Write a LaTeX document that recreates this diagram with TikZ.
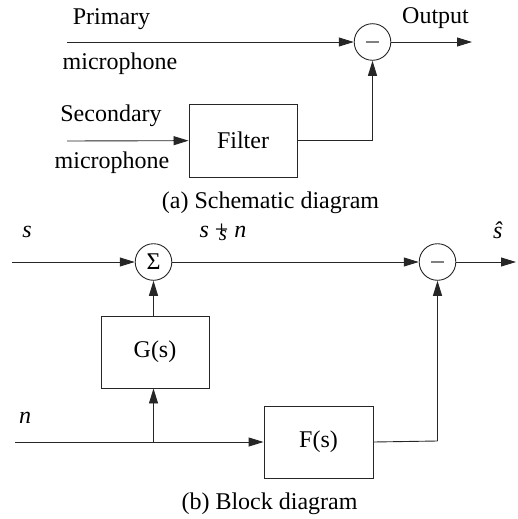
\documentclass[tikz,border=0pt]{standalone}
\usepackage{fontspec}
\setmainfont{Liberation Serif}
\usetikzlibrary{arrows.meta}
\begin{document}
\begin{tikzpicture}[x=1pt,y=-1pt,
  every node/.style={font=\fontsize{24}{28}\selectfont},
  line/.style={line width=0.9pt, draw=black!85},
  arr/.style={line, -{Triangle[length=15pt,width=9pt]}},
  blk/.style={draw=black!85, line width=0.9pt, rectangle, inner sep=0pt},
  junc/.style={draw=black!85, circle, line width=0.9pt, minimum size=36.6pt, inner sep=0pt},
  lbl/.style={anchor=base, inner sep=0pt}]
\useasboundingbox (0,0) rectangle (517,519);

% ---------- (a) Schematic diagram ----------
\node[junc] (sub1) at (372.5,42) {\color{black!50}\rule[-1pt]{13pt}{2pt}};
\node[blk, minimum width=108pt, minimum height=73pt] (filter) at (243,140.5) {Filter};
\coordinate (pin) at (67,42);
\coordinate (sin2) at (67,141);
\coordinate (out1) at (472,42);

\node[lbl] (tprim) at (111.5,25) {Primary};
\node[lbl] (tmic1) at (120,70) {microphone};
\node[lbl] (tsec) at (111,121) {Secondary};
\node[lbl] (tmic2) at (112,168) {microphone};
\node[lbl] (tout) at (435.5,24) {Output};
\node[lbl] (capa) at (270.5,208) {(a) Schematic diagram};

\draw[arr] (pin) -- (sub1);
\draw[arr] (sub1) -- (out1);
\draw[arr] (sin2) -- (filter);
\draw[arr] (filter.east) -| (sub1.south);

% ---------- (b) Block diagram ----------
\node[junc] (sum) at (153.5,262) {\fontsize{24}{24}\selectfont Σ};
\node[junc] (sub2) at (437.5,262) {\color{black!50}\rule[-1pt]{13pt}{2pt}};
\node[blk, minimum width=108pt, minimum height=72pt] (G) at (155,352) {G(s)};
\node[blk, minimum width=109pt, minimum height=72pt] (F) at (318.5,442) {F(s)};
\coordinate (sin) at (12,262);
\coordinate (nin) at (15,442);
\coordinate (shat) at (516,262);
\coordinate (branch) at (153.5,442);
\coordinate (fc) at (437.5,441);

\node[lbl] (ts) at (27,237) {\textit{s}};
\node[lbl] (tsn) at (223,237) {\textit{s} + \textit{n}};
\node[lbl, font=\fontsize{21}{24}\selectfont] (tsx) at (223,240) {\textit{s}};
\node[lbl] (tshat) at (498,238) {\textit{ŝ}};
\node[lbl] (tn) at (25,423) {\textit{n}};
\node[lbl] (capb) at (269.5,509) {(b) Block diagram};

\draw[arr] (sin) -- (sum);
\draw[arr] (sum) -- (sub2);
\draw[arr] (sub2) -- (shat);
\draw[arr] (G.north -| sum) -- (sum.south);
\draw[arr] (nin) -- (F);
\draw[arr] (branch) -- (G.south -| branch);
\draw[line] (F.east) -- (fc);
\draw[arr] (fc) -- (sub2.south);
\end{tikzpicture}
\end{document}
